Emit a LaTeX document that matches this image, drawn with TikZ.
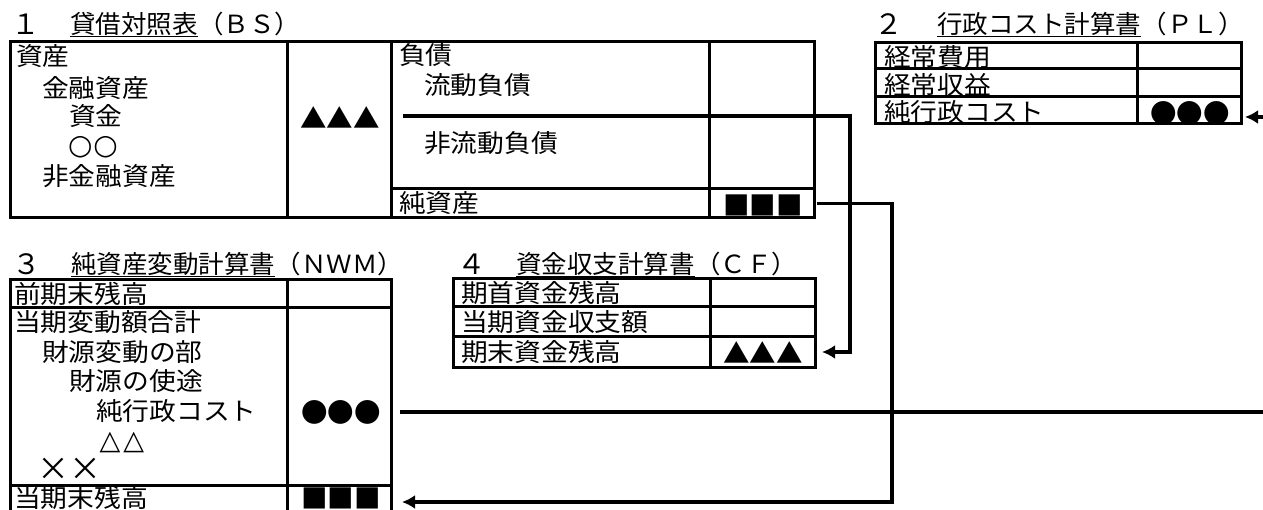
\documentclass[tikz,border=0pt]{standalone}
\usepackage{fontspec}
\newfontfamily\jp[FakeStretch=1.07]{Noto Sans CJK JP}
\newfontfamily\jpt[FakeStretch=1.02]{Noto Sans CJK JP}
\newfontfamily\jps{Noto Sans CJK JP}
\newfontfamily\dvs{DejaVu Sans}
\usetikzlibrary{arrows.meta,calc}
\begin{document}
\begin{tikzpicture}[x=1pt,y=-1pt,
  cell/.style={draw,line width=3pt,inner sep=0pt,outer sep=0pt,anchor=north west},
  txt/.style={inner sep=0pt,anchor=base west,font=\jp\fontsize{25}{30}\selectfont},
  geo/.style={inner sep=0pt,anchor=center,font=\dvs\fontsize{28}{30}\selectfont},
  sym/.style={inner sep=0pt,anchor=center,font=\jps\fontsize{26.5}{30}\selectfont},
  ttl/.style={inner sep=0pt,anchor=base west,font=\jpt\fontsize{25}{30}\selectfont},
  num/.style={inner sep=0pt,anchor=base,font=\jpt\fontsize{28}{30}\selectfont},
  uline/.style={line width=1.8pt},
  conn/.style={line width=3.6pt},
  arr/.style={conn,-{Latex[length=13pt,width=14pt]}}
]
\useasboundingbox (0,0) rectangle (1263,510);

% ---------- 1 BS ----------
\node[num] (t1n) at (26,35) {１};
\node[ttl] (t1) at (70,34) {貸借対照表};
\node[ttl,anchor=base west] (t1p) at (t1.base east) {（ＢＳ）};
\draw[uline] ([yshift=-2.5pt]t1.base west) -- ([yshift=-2.5pt]t1.base east);

\node[cell,minimum width=277pt,minimum height=176pt] (bsA) at (10,42) {};
\node[cell,minimum width=104pt,minimum height=176pt] (bsAV) at (287,42) {};
\node[cell,minimum width=318pt,minimum height=147pt] (bsL) at (391,42) {};
\node[cell,minimum width=105pt,minimum height=147pt] (bsLV) at (709,42) {};
\node[cell,minimum width=318pt,minimum height=29pt] (bsN) at (391,189) {};
\node[cell,minimum width=105pt,minimum height=29pt] (bsNV) at (709,189) {};

\node[txt] (a1) at (16,66) {資産};
\node[txt] (a2) at (42,98) {金融資産};
\node[txt] (a3) at (69,126) {資金};
\node[geo] (a4) at (93,147) {○\kern1pt○};
\node[txt] (a5) at (42,186) {非金融資産};
\node[sym] (aV) at (340,118) {▲▲▲};

\node[txt] (l1) at (399,65) {負債};
\node[txt] (l2) at (424,95) {流動負債};
\node[txt] (l3) at (424,153) {非流動負債};
\node[txt] (n1) at (399,213) {純資産};
\node[sym] (nV) at (763,205) {■■■};

% ---------- 2 PL ----------
\node[num] (t2n) at (889,35) {２};
\node[ttl] (t2) at (937,34) {行政コスト計算書};
\node[ttl,anchor=base west] (t2p) at (t2.base east) {（ＰＬ）};
\draw[uline] ([yshift=-2.5pt]t2.base west) -- ([yshift=-2.5pt]t2.base east);

\node[cell,minimum width=262pt,minimum height=26pt] (plA1) at (875,43) {};
\node[cell,minimum width=104pt,minimum height=26pt] (plV1) at (1137,43) {};
\node[cell,minimum width=262pt,minimum height=28pt] (plA2) at (875,69) {};
\node[cell,minimum width=104pt,minimum height=28pt] (plV2) at (1137,69) {};
\node[cell,minimum width=262pt,minimum height=27pt] (plA3) at (875,97) {};
\node[cell,minimum width=104pt,minimum height=27pt] (plV3) at (1137,97) {};

\node[txt] (p1) at (884,67) {経常費用};
\node[txt] (p2) at (884,95) {経常収益};
\node[txt] (p3) at (884,122) {純行政コスト};
\node[sym] (pV) at (1190,113) {●●●};

% ---------- 3 NWM ----------
\node[num] (t3n) at (27,275) {３};
\node[ttl] (t3) at (71,274) {純資産変動計算書};
\node[ttl,anchor=base west] (t3p) at (t3.base east) {（ＮＷＭ）};
\draw[uline] ([yshift=-2.5pt]t3.base west) -- ([yshift=-2.5pt]t3.base east);

\node[cell,minimum width=277pt,minimum height=28pt] (wA1) at (10,280) {};
\node[cell,minimum width=104pt,minimum height=28pt] (wV1) at (287,280) {};
\node[cell,minimum width=277pt,minimum height=177pt] (wA2) at (10,308) {};
\node[cell,minimum width=104pt,minimum height=177pt] (wV2) at (287,308) {};
\node[cell,minimum width=277pt,minimum height=34pt] (wA3) at (10,485) {};
\node[cell,minimum width=104pt,minimum height=34pt] (wV3) at (287,485) {};

\node[txt] (w1) at (14,304) {前期末残高};
\node[txt] (w2) at (14,332) {当期変動額合計};
\node[txt] (w3) at (42,361) {財源変動の部};
\node[txt] (w4) at (69,390) {財源の使途};
\node[txt] (w5) at (96,420) {純行政コスト};
\node[geo,font=\dvs\fontsize{27}{30}\selectfont] (w6) at (122,442) {△\kern3pt△};
\node[sym,font=\jps\fontsize{32}{30}\selectfont] (w7) at (69,469) {××};
\node[txt] (w8) at (14,507) {当期末残高};
\node[sym] (wD) at (341,412) {●●●};
\node[sym] (wS) at (341,498) {■■■};

% ---------- 4 CF ----------
\node[num] (t4n) at (472,275) {４};
\node[ttl] (t4) at (516,274) {資金収支計算書};
\node[ttl,anchor=base west] (t4p) at (t4.base east) {（ＣＦ）};
\draw[uline] ([yshift=-2.5pt]t4.base west) -- ([yshift=-2.5pt]t4.base east);

\node[cell,minimum width=257pt,minimum height=28pt] (cA1) at (453,279) {};
\node[cell,minimum width=105pt,minimum height=28pt] (cV1) at (710,279) {};
\node[cell,minimum width=257pt,minimum height=30pt] (cA2) at (453,307) {};
\node[cell,minimum width=105pt,minimum height=30pt] (cV2) at (710,307) {};
\node[cell,minimum width=257pt,minimum height=30pt] (cA3) at (453,337) {};
\node[cell,minimum width=105pt,minimum height=30pt] (cV3) at (710,337) {};

\node[txt] (f1) at (461,303) {期首資金残高};
\node[txt] (f2) at (461,332) {当期資金収支額};
\node[txt] (f3) at (461,362) {期末資金残高};
\node[sym] (fV) at (763,353) {▲▲▲};

% ---------- connectors ----------
\coordinate (c1s) at (403,116);
\draw[arr] (c1s) -| ([xshift=35pt]cV3.east) -- ([xshift=7pt]cV3.east);

\coordinate (c2r) at (892,0);
\draw[arr] ([xshift=3pt]bsNV.east) -| (c2r |- wV3.east) -- ([xshift=11pt]wV3.east);

\coordinate (c3s) at (400,412);
\coordinate (c3e) at (1265,412);
\draw[conn] (c3s) -- (c3e);

\coordinate (c4s) at (1265,117);
\draw[arr] (c4s) -- ($(plV3.east |- c4s)+(4,0)$);
\end{tikzpicture}
\end{document}
